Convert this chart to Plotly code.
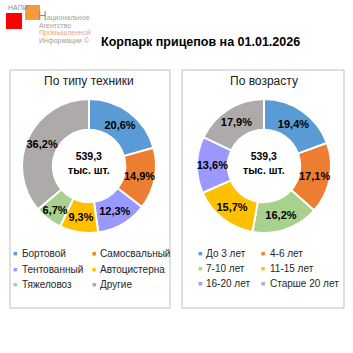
import plotly.graph_objects as go

title_text = "Корпарк прицепов на 01.01.2026"
total_text = "539,3<br>тыс. шт."

type_title = "По типу техники"
type_labels = ["Бортовой", "Самосвальный", "Тентованный", "Автоцистерна", "Тяжеловоз", "Другие"]
type_values = [20.6, 14.9, 12.3, 9.3, 6.7, 36.2]

age_title = "По возрасту"
age_labels = ["До 3 лет", "4-6 лет", "7-10 лет", "11-15 лет", "16-20 лет", "Старше 20 лет"]
age_values = [19.4, 17.1, 16.2, 15.7, 13.6, 17.9]

colors = ["#5B9BD5", "#ED7D31", "#9999FF", "#FFC000", "#A9D18E", "#AEAAAA"]
age_colors = ["#5B9BD5", "#ED7D31", "#A9D18E", "#FFC000", "#9999FF", "#AEAAAA"]

W = H = 353
FONT = "Liberation Sans, Arial, sans-serif"

def px(x):
    return x / W

def py(y):
    return 1 - y / H

fig = go.Figure()

def add_pie(labels, values, cols, cx, cy, r):
    fig.add_trace(go.Pie(
        labels=labels, values=values, sort=False, direction="clockwise", rotation=0,
        hole=0.54,
        marker=dict(colors=cols, line=dict(color="white", width=2)),
        texttemplate="<b>%{value:.1f}%</b>", textposition="inside",
        insidetextorientation="horizontal",
        textfont=dict(family=FONT, size=11, color="black"),
        domain=dict(x=[px(cx - r), px(cx + r)], y=[py(cy + r), py(cy - r)]),
        showlegend=False, hoverinfo="label+percent",
    ))

add_pie(type_labels, type_values, colors, 89, 166, 67)
add_pie(age_labels, age_values, age_colors, 264, 166, 67)

shapes = []
for (x0, x1) in [(10, 170), (182, 344)]:
    shapes.append(dict(type="rect", xref="paper", yref="paper",
                       x0=px(x0), x1=px(x1), y0=py(308), y1=py(70),
                       line=dict(color="#BFBFBF", width=1), fillcolor="rgba(0,0,0,0)"))
shapes.append(dict(type="rect", xref="paper", yref="paper", x0=px(6), x1=px(22), y0=py(29), y1=py(13),
                   line=dict(width=0), fillcolor="#FF0000", layer="below"))
shapes.append(dict(type="rect", xref="paper", yref="paper", x0=px(25), x1=px(40), y0=py(20), y1=py(5),
                   line=dict(width=0), fillcolor="#F79A3B", layer="below"))

ann = []
def text(x, y, t, size, color="#000", bold=False, anchor="center"):
    ann.append(dict(x=px(x), y=py(y), xref="paper", yref="paper", text=(f"<b>{t}</b>" if bold else t),
                    showarrow=False, xanchor=anchor, yanchor="middle",
                    font=dict(family=FONT, size=size, color=color)))

text(6, 7, "НАПИ", 7, "#7F93AD", anchor="left")
text(36, 16, "<span style='font-size:12px;color:#8C8C8C'>Н</span>ациональное", 7, "#A0A0A0", anchor="left")
text(37, 25, "Агентство", 7, "#A0A0A0", anchor="left")
text(37, 33, "Промышленной", 7, "#E8A878", anchor="left")
text(37, 41, "Информации ©", 7, "#A0A0A0", anchor="left")

text(200, 42, title_text, 12.5, "#000", bold=True)

text(89, 81, type_title, 12, "#202020")
text(264, 81, age_title, 12, "#202020")

text(89, 163, total_text, 10.5, "#000", bold=True)
text(264, 163, total_text, 10.5, "#000", bold=True)

def legend(labels, cols, sq_x, txt_x, rows):
    for i, (lab, c) in enumerate(zip(labels, cols)):
        col = i % 2
        row = i // 2
        y = rows[row]
        text(sq_x[col], y, "■", 7, c)
        text(txt_x[col], y, lab, 10, "#262626", anchor="left")

legend(type_labels, colors, [15, 94], [20, 98], [253, 269, 284])
legend(age_labels, age_colors, [200, 263], [204, 268], [253, 268, 283])

fig.update_layout(
    width=W, height=H, margin=dict(l=0, r=0, t=0, b=0),
    paper_bgcolor="white", plot_bgcolor="white",
    separators=", ",
    shapes=shapes, annotations=ann,
    font=dict(family=FONT),
    uniformtext=dict(minsize=11, mode="show"),
)

fig.write_html("out.html")
